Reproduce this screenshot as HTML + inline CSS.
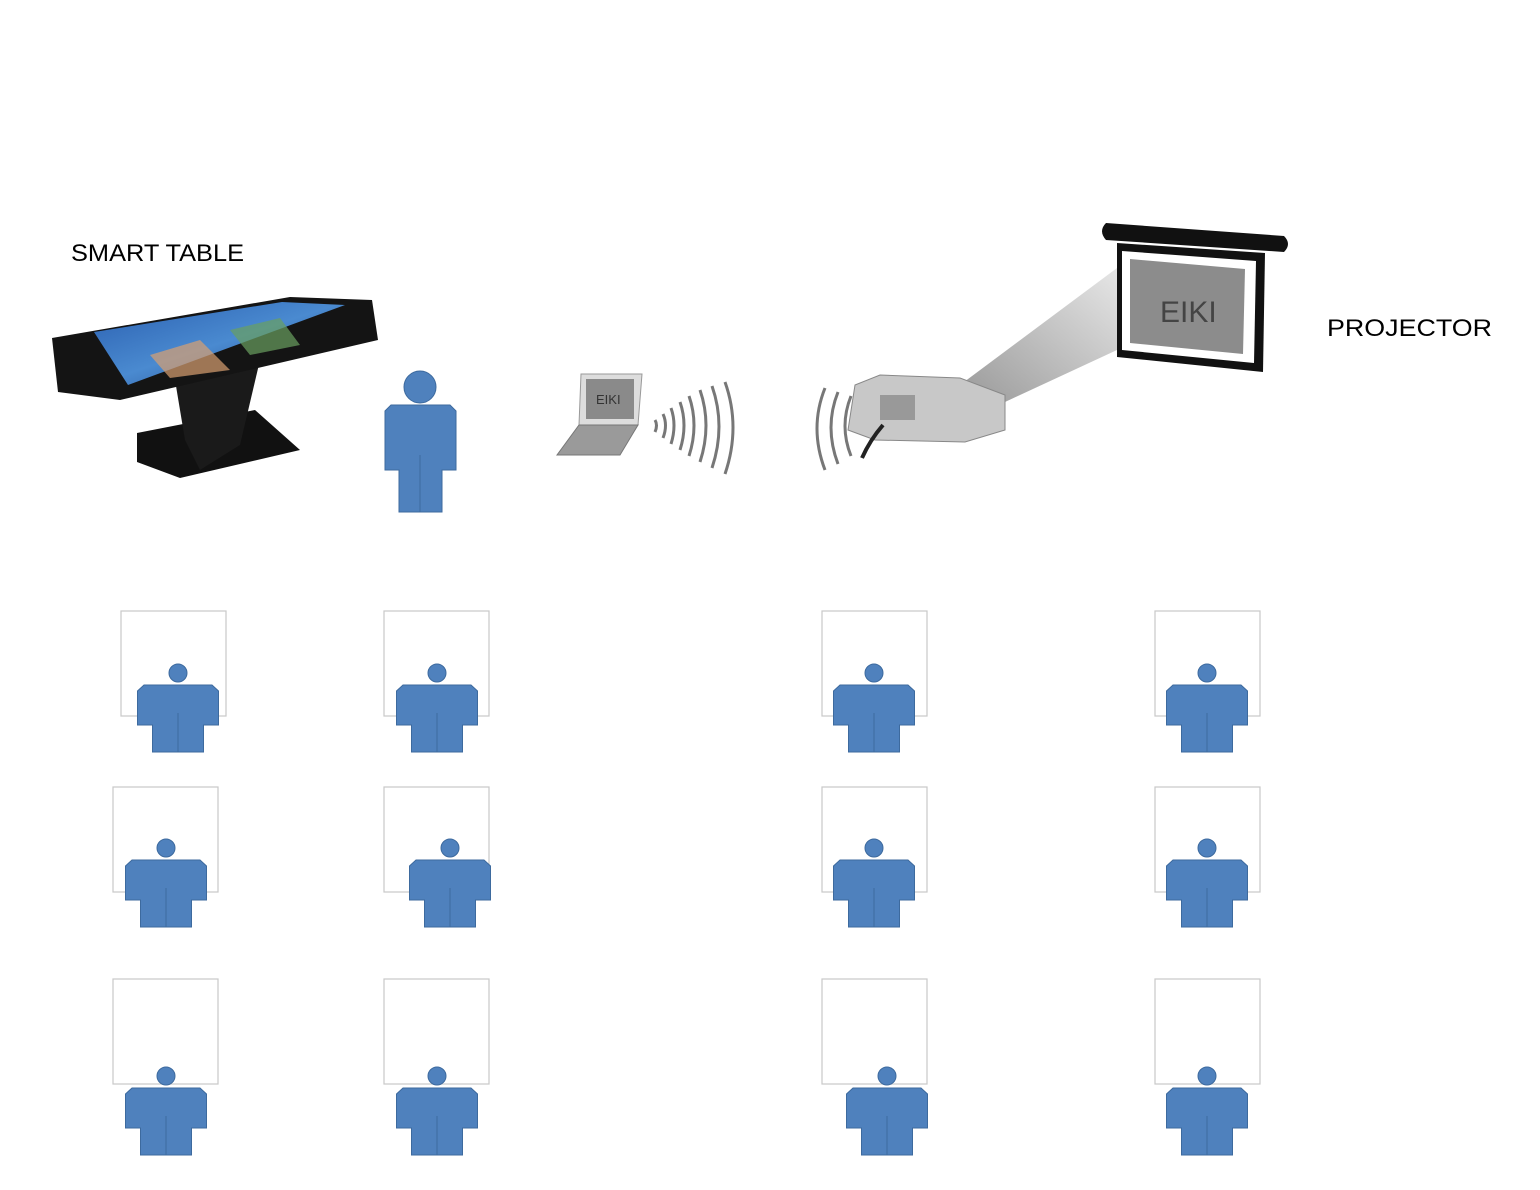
<!DOCTYPE html>
<html><head><meta charset="utf-8"><style>
html,body{margin:0;padding:0;background:#fff;}
svg{display:block;}
text{font-family:"Liberation Sans",sans-serif;}
</style></head><body>
<svg width="1540" height="1190" viewBox="0 0 1540 1190" xmlns="http://www.w3.org/2000/svg">
<defs>
<linearGradient id="beam" x1="0" y1="1" x2="1" y2="0">
<stop offset="0" stop-color="#999"/><stop offset="1" stop-color="#e6e6e6"/></linearGradient>
<linearGradient id="scr" x1="0" y1="0" x2="1" y2="1">
<stop offset="0" stop-color="#2a5fb0"/><stop offset="0.5" stop-color="#4a8ad0"/><stop offset="1" stop-color="#1d3f80"/></linearGradient>
<g id="p">
<circle cx="0" cy="0" r="9" fill="#4f81bd" stroke="#3d6a9e" stroke-width="1"/>
<path d="M-34,12 L34,12 L40.5,18 L40.5,52 L25.5,52 L25.5,79 L-25.5,79 L-25.5,52 L-40.5,52 L-40.5,18 Z" fill="#4f81bd" stroke="#3d6a9e" stroke-width="1"/>
<line x1="0" y1="40" x2="0" y2="79" stroke="#3d6a9e" stroke-width="1"/>
</g>
<g id="d"><rect x="0" y="0" width="105" height="105" fill="#fff" stroke="#c8c8c8" stroke-width="1.2"/></g>
</defs>

<text x="71" y="261" font-size="24" fill="#000" textLength="173" lengthAdjust="spacingAndGlyphs">SMART TABLE</text>
<text x="1327" y="336" font-size="24" fill="#000" textLength="165" lengthAdjust="spacingAndGlyphs">PROJECTOR</text>

<!-- smart table -->
<polygon points="137,433 255,410 300,450 180,478 137,462" fill="#111"/>
<polygon points="175,380 260,360 240,445 200,470 185,440" fill="#1a1a1a"/>
<polygon points="52,338 290,297 372,300 378,340 120,400 58,392" fill="#141414"/>
<polygon points="94,332 282,302 345,305 128,385" fill="url(#scr)"/>
<polygon points="150,355 200,340 230,370 170,378" fill="#d9a070" opacity="0.7"/>
<polygon points="230,330 280,318 300,345 250,355" fill="#6aa060" opacity="0.7"/>

<!-- big person -->
<circle cx="420" cy="387" r="16" fill="#4f81bd" stroke="#3d6a9e"/>
<path d="M391,405 L450,405 L456,411 L456,470 L442,470 L442,512 L399,512 L399,470 L385,470 L385,411 Z" fill="#4f81bd" stroke="#3d6a9e"/>
<line x1="420" y1="455" x2="420" y2="512" stroke="#3d6a9e"/>

<!-- laptop -->
<polygon points="581,374 642,374 638,425 579,425" fill="#ddd" stroke="#999"/>
<rect x="586" y="379" width="48" height="40" fill="#8a8a8a"/>
<text x="596" y="404" font-size="13" font-family="Liberation Serif" fill="#333">EIKI</text>
<polygon points="579,425 638,425 620,455 557,455" fill="#9a9a9a" stroke="#777"/>
<g fill="none" stroke="#777" stroke-width="3">
<path d="M655,420 q3,5 0,12"/><path d="M663,414 q5,11 0,24"/><path d="M671,408 q6,17 0,36"/>
<path d="M680,402 q8,23 0,48"/><path d="M689,396 q10,29 0,60"/><path d="M700,390 q12,35 0,72"/>
<path d="M712,386 q14,40 0,82"/><path d="M725,382 q16,45 0,92"/>
<path d="M825,388 q-16,40 0,82"/><path d="M838,392 q-14,35 0,72"/><path d="M851,396 q-12,30 0,60"/>
</g>

<!-- beam -->
<polygon points="960,385 1117,268 1117,350 1005,402" fill="url(#beam)"/>
<!-- projector -->
<polygon points="855,385 880,375 960,378 1005,395 1005,430 965,442 875,440 848,430" fill="#c8c8c8" stroke="#888"/>
<rect x="880" y="395" width="35" height="25" fill="#999"/>
<path d="M883,425 Q870,440 862,458" stroke="#222" stroke-width="4" fill="none"/>

<!-- screen -->
<path d="M1106,223 L1284,236 Q1292,244 1284,252 L1106,240 Q1098,231 1106,223 Z" fill="#111"/>
<polygon points="1117,243 1265,253 1263,372 1117,357" fill="#111"/>
<polygon points="1122,251 1256,261 1254,363 1122,350" fill="#fff"/>
<polygon points="1130,259 1245,269 1243,354 1130,343" fill="#8c8c8c"/>
<text x="1160" y="322" font-size="30" font-family="Liberation Serif" fill="#444">EIKI</text>

<!-- desks and persons -->
<use href="#d" x="121" y="611"/><use href="#p" x="178" y="673"/>
<use href="#d" x="384" y="611"/><use href="#p" x="437" y="673"/>
<use href="#d" x="822" y="611"/><use href="#p" x="874" y="673"/>
<use href="#d" x="1155" y="611"/><use href="#p" x="1207" y="673"/>

<use href="#d" x="113" y="787"/><use href="#p" x="166" y="848"/>
<use href="#d" x="384" y="787"/><use href="#p" x="450" y="848"/>
<use href="#d" x="822" y="787"/><use href="#p" x="874" y="848"/>
<use href="#d" x="1155" y="787"/><use href="#p" x="1207" y="848"/>

<use href="#d" x="113" y="979"/><use href="#p" x="166" y="1076"/>
<use href="#d" x="384" y="979"/><use href="#p" x="437" y="1076"/>
<use href="#d" x="822" y="979"/><use href="#p" x="887" y="1076"/>
<use href="#d" x="1155" y="979"/><use href="#p" x="1207" y="1076"/>
</svg>
</body></html>
